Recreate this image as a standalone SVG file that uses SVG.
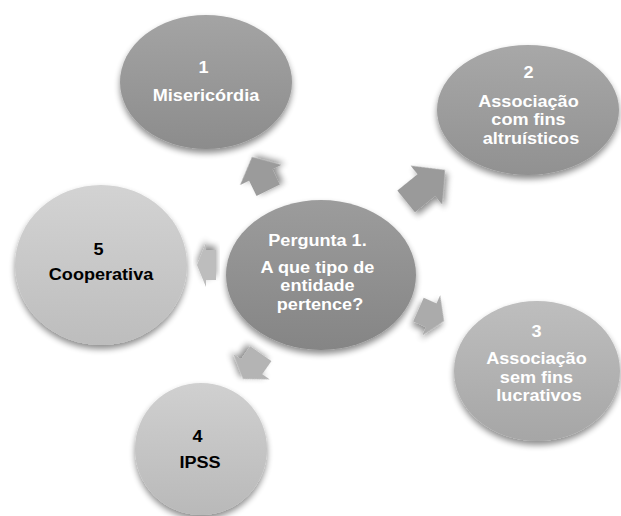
<svg xmlns="http://www.w3.org/2000/svg" width="621" height="516" viewBox="0 0 621 516">
  <defs>
    <filter id="sh" x="-20%" y="-20%" width="140%" height="150%">
      <feGaussianBlur in="SourceAlpha" stdDeviation="3"/>
      <feOffset dx="0" dy="4" result="b"/>
      <feComponentTransfer><feFuncA type="linear" slope="0.45"/></feComponentTransfer>
      <feMerge><feMergeNode/><feMergeNode in="SourceGraphic"/></feMerge>
    </filter>
    <linearGradient id="gC" x1="0" y1="0" x2="0" y2="1"><stop offset="0" stop-color="#9c9c9c"/><stop offset="1" stop-color="#858585"/></linearGradient>
    <linearGradient id="g1" x1="0" y1="0" x2="0" y2="1"><stop offset="0" stop-color="#a4a4a4"/><stop offset="1" stop-color="#8c8c8c"/></linearGradient>
    <linearGradient id="g2" x1="0" y1="0" x2="0" y2="1"><stop offset="0" stop-color="#a8a8a8"/><stop offset="1" stop-color="#919191"/></linearGradient>
    <linearGradient id="g3" x1="0" y1="0" x2="0" y2="1"><stop offset="0" stop-color="#bebebe"/><stop offset="1" stop-color="#a6a6a6"/></linearGradient>
    <linearGradient id="g4" x1="0" y1="0" x2="0" y2="1"><stop offset="0" stop-color="#d0d0d0"/><stop offset="1" stop-color="#b9b9b9"/></linearGradient>
    <linearGradient id="g5" x1="0" y1="0" x2="0" y2="1"><stop offset="0" stop-color="#d3d3d3"/><stop offset="1" stop-color="#bdbdbd"/></linearGradient>
  </defs>
  <style>
    .n { filter: url(#sh); }
    .t { font-family: "Liberation Sans", Arial, sans-serif; font-weight: bold; font-size: 16px; text-anchor: middle; }
    .w { fill: #ffffff; }
    .k { fill: #000000; }
    .a { filter: url(#sh); }
  </style>
  <rect width="621" height="516" fill="#ffffff"/>

  <g id="connectors">
    <polygon class="a" fill="#9b9b9b" transform="translate(252 157) rotate(-116)" points="0,0 -20,-23 -20,-13 -37,-13 -37,13 -20,13 -20,23"/>
    <polygon class="a" fill="#9a9a9a" transform="translate(445 170) rotate(-39)" points="0,0 -24,-25 -24,-14 -50,-14 -50,14 -24,14 -24,25"/>
    <polygon class="a" fill="#ababab" transform="translate(444 321) rotate(24)" points="0,0 -14,-22 -14,-13 -28,-13 -28,13 -14,13 -14,22"/>
    <polygon class="a" fill="#b4b4b4" transform="translate(243 379) rotate(125)" points="0,0 -15,-22 -15,-13 -31,-13 -31,13 -15,13 -15,22"/>
    <polygon class="a" fill="#bdbdbd" transform="translate(197 265) rotate(180)" points="0,0 -9,-22 -9,-15 -19,-15 -19,15 -9,15 -9,22"/>
  </g>

  <g id="node-center">
    <ellipse class="n" cx="321" cy="275" rx="95" ry="75" fill="url(#gC)"/>
    <text class="t w" transform="translate(320 0) scale(1.13 1)">
      <tspan x="0" y="246">Pergunta 1.</tspan>
      <tspan x="0" y="273">A que tipo de</tspan>
      <tspan x="0" y="291.5">entidade</tspan>
      <tspan x="0" y="310">pertence?</tspan>
    </text>
  </g>

  <g id="node-1">
    <ellipse class="n" cx="206" cy="82" rx="86" ry="67" fill="url(#g1)"/>
    <text class="t w" transform="translate(206 0) scale(1.13 1)">
      <tspan x="0" y="73">1</tspan>
      <tspan x="0" y="101">Misericórdia</tspan>
    </text>
  </g>

  <g id="node-2">
    <ellipse class="n" cx="528" cy="110" rx="91" ry="65" fill="url(#g2)"/>
    <text class="t w" transform="translate(531 0) scale(1.13 1)">
      <tspan x="0" y="78">2</tspan>
      <tspan x="0" y="107">Associação</tspan>
      <tspan x="0" y="125.5">com fins</tspan>
      <tspan x="0" y="144">altruísticos</tspan>
    </text>
  </g>

  <g id="node-3">
    <ellipse class="n" cx="537" cy="371" rx="83" ry="70" fill="url(#g3)"/>
    <text class="t w" transform="translate(539 0) scale(1.13 1)">
      <tspan x="0" y="337">3</tspan>
      <tspan x="0" y="364.5">Associação</tspan>
      <tspan x="0" y="383">sem fins</tspan>
      <tspan x="0" y="401.5">lucrativos</tspan>
    </text>
  </g>

  <g id="node-4">
    <ellipse class="n" cx="201" cy="449" rx="66" ry="66" fill="url(#g4)"/>
    <text class="t k" transform="translate(200 0) scale(1.13 1)">
      <tspan x="0" y="442">4</tspan>
      <tspan x="0" y="468">IPSS</tspan>
    </text>
  </g>

  <g id="node-5">
    <ellipse class="n" cx="101" cy="265" rx="86" ry="80" fill="url(#g5)"/>
    <text class="t k" transform="translate(101 0) scale(1.13 1)">
      <tspan x="0" y="255">5</tspan>
      <tspan x="0" y="280">Cooperativa</tspan>
    </text>
  </g>
</svg>
